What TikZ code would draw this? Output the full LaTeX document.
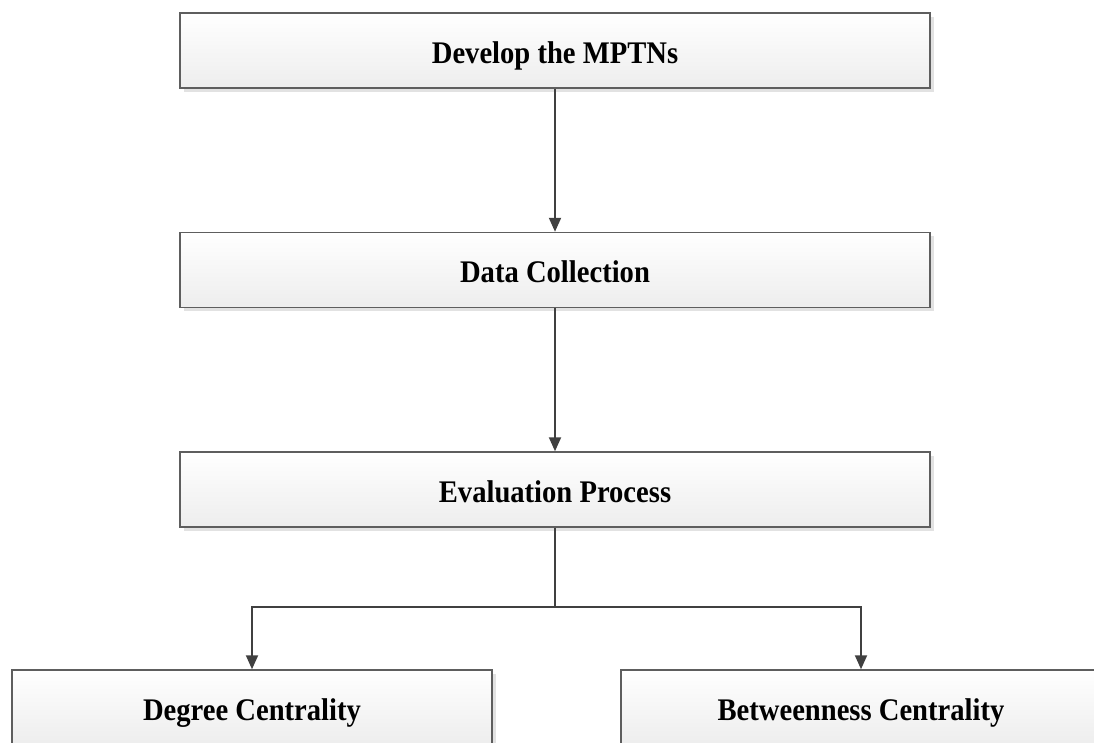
\documentclass[tikz,border=0pt]{standalone}
\usepackage{fontspec}
\usepackage{graphicx}
\setmainfont{Liberation Serif}
\usetikzlibrary{arrows.meta,shadows}
\definecolor{edgegray}{HTML}{5E5E5E}
\definecolor{linkgray}{HTML}{404040}
\definecolor{shadowgray}{HTML}{E2E2E2}
% box labels are set slightly taller than the font's natural shape
\newcommand{\boxlabel}[1]{\scalebox{1}[1.1]{#1}}
\begin{document}
\begin{tikzpicture}[x=1pt,y=-1pt,
  stepbox/.style={draw=edgegray, line width=1.5pt, top color=white, bottom color=black!7,
    minimum height=75pt, inner sep=0pt, text height=25pt, text depth=0pt,
    font=\fontsize{28.6}{32}\selectfont\bfseries,
    drop shadow={shadow xshift=3.5pt, shadow yshift=-3.5pt, fill=shadowgray, opacity=1}},
  link/.style={draw=linkgray, line width=2pt, -{Triangle[length=14pt,width=12pt]}},
  wire/.style={draw=linkgray, line width=2pt}]
  \useasboundingbox (0,0) rectangle (1094,742);
  \clip (0,0) rectangle (1094,742);

  % main chain of steps
  \node[stepbox, minimum width=750pt] (dev)  at (555,50.5)  {\boxlabel{Develop the MPTNs}};
  \node[stepbox, minimum width=750pt] (data) at (555,270)   {\boxlabel{Data Collection}};
  \node[stepbox, minimum width=750pt] (eval) at (555,489.5) {\boxlabel{Evaluation Process}};

  % the two centrality measures
  \node[stepbox, minimum width=480pt] (deg) at (252,707.5) {\boxlabel{Degree Centrality}};
  \node[stepbox, minimum width=480pt] (bet) at (861,707.5) {\boxlabel{Betweenness Centrality}};

  \coordinate (split) at (555,607);

  \draw[link] (dev) -- (data);
  \draw[link] (data) -- (eval);
  \draw[wire] (eval.south) -- (split);
  \draw[link] (split) -| (deg.north);
  \draw[link] (split) -| (bet.north);
\end{tikzpicture}
\end{document}
